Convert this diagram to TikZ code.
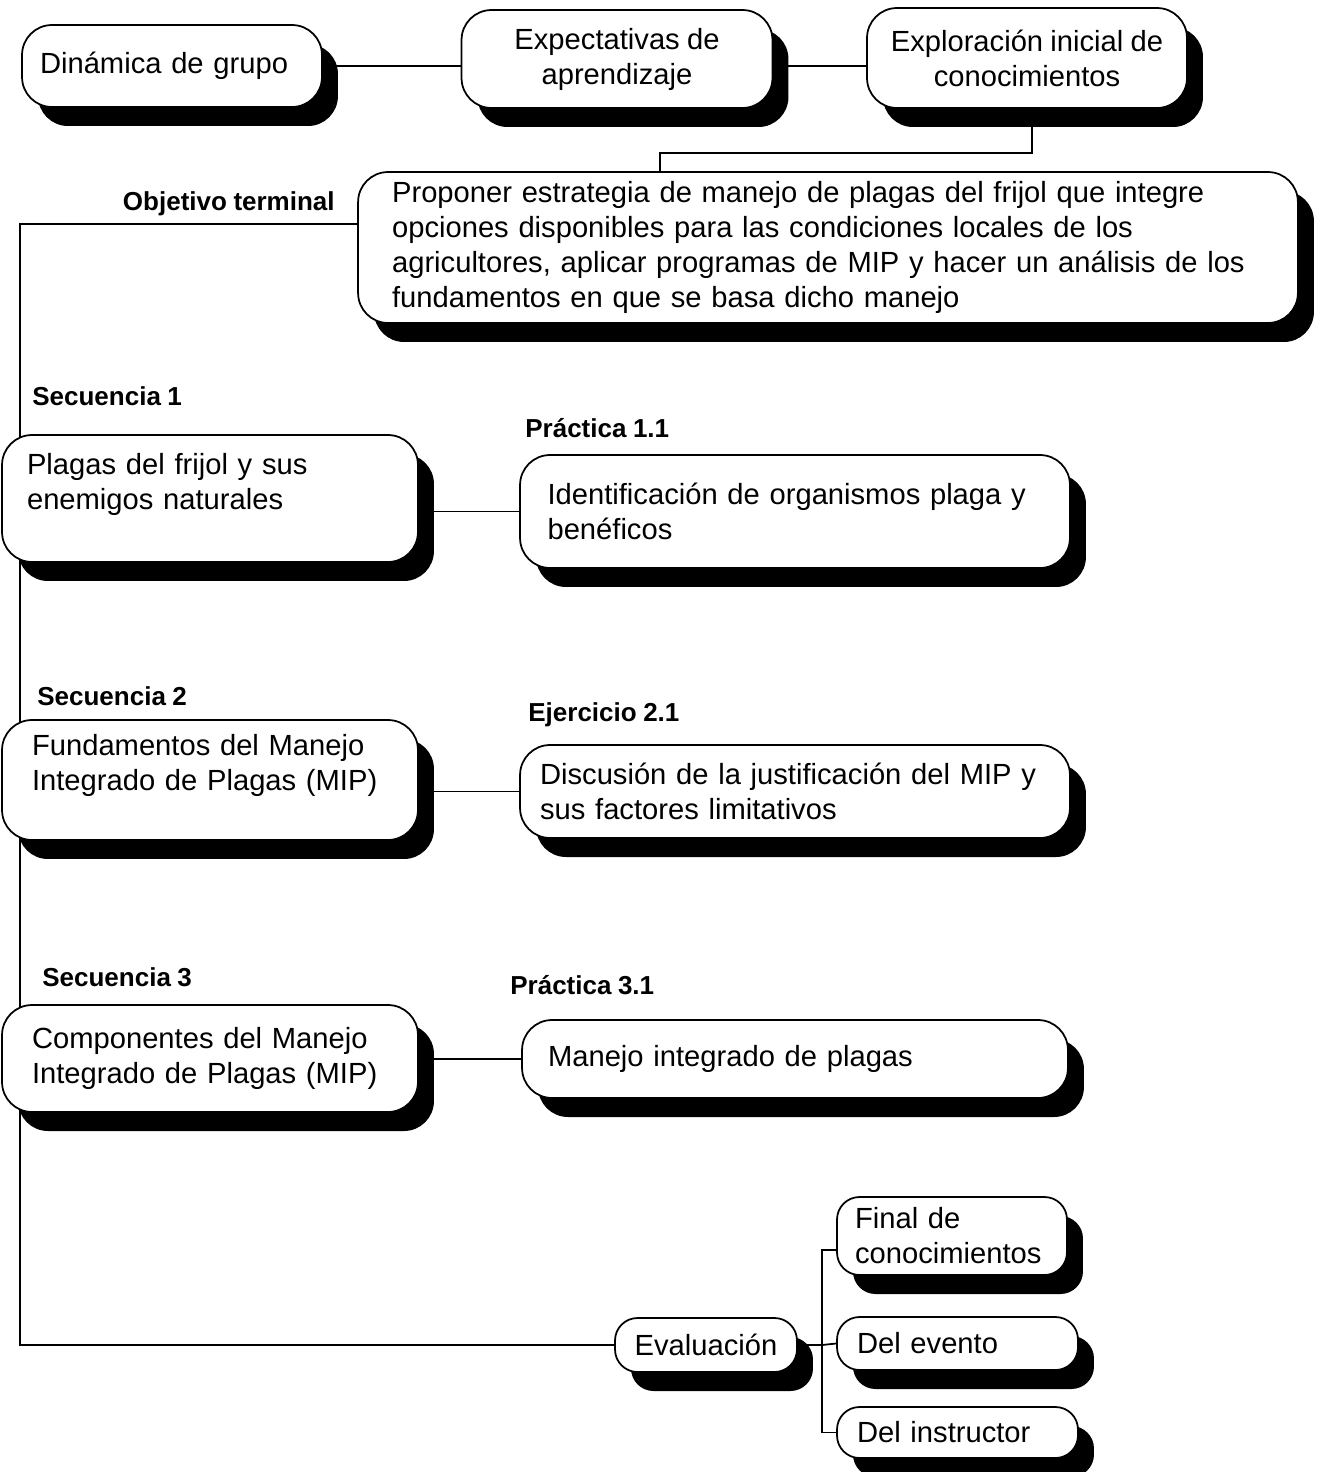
\documentclass[tikz,border=0pt]{standalone}
\usepackage{fontspec}
\setmainfont{Liberation Sans}[WordSpace=0.9]
\usetikzlibrary{shadows,backgrounds}

\begin{document}
\begin{tikzpicture}[
    x=0.02cm, y=-0.02cm,
    box/.style={draw=black, line width=1pt, fill=white, rounded corners=0.6cm,
        drop shadow={shadow xshift=0.32cm, shadow yshift=-0.38cm, opacity=1, fill=black},
        font=\fontsize{16.6}{19.9}\selectfont, inner sep=0pt},
    left box/.style={box, align=left},
    mid box/.style={box, align=center},
    small box/.style={box, rounded corners=0.45cm, align=left},
    title/.style={font=\fontsize{14.8}{17}\selectfont\bfseries, anchor=west, inner sep=0pt},
    link/.style={line width=1pt}
    ]
    \useasboundingbox (0,0) rectangle (1321,1472);

    % top row
    \node[left box, text width=5.28cm, inner xsep=0.36cm, minimum height=1.64cm] (dinamica) at (172,66) {Dinámica de grupo};
    \node[mid box, minimum width=6.22cm, minimum height=1.96cm] (expect) at (617,59) {Expectativas de\\aprendizaje};
    \node[mid box, minimum width=6.4cm, minimum height=2cm] (explor) at (1027,58) {Exploración inicial de\\conocimientos};

    % objetivo
    \node[title, anchor=east] (objlabel) at (335,204) {Objetivo terminal};
    \node[left box, text width=17.44cm, inner xsep=0.68cm, minimum height=3.02cm] (objetivo) at (828,247.5)
        {Proponer estrategia de manejo de plagas del frijol que integre\\opciones disponibles para las condiciones locales de los\\agricultores, aplicar programas de MIP y hacer un análisis de los\\fundamentos en que se basa dicho manejo};

    % secuencia 1
    \node[title] (sec1) at (32,396) {Secuencia 1};
    \node[left box, text width=7.32cm, inner xsep=0.5cm, minimum height=2.54cm] (plagas) at (210,498.5) {Plagas del frijol y sus\\enemigos naturales\\~};
    \node[title] (prac1) at (525,428) {Práctica 1.1};
    \node[left box, text width=9.9cm, inner xsep=0.55cm, minimum height=2.26cm] (ident) at (795,511.5) {Identificación de organismos plaga y\\benéficos};

    % secuencia 2
    \node[title] (sec2) at (37,696) {Secuencia 2};
    \node[left box, text width=7.12cm, inner xsep=0.6cm, minimum height=2.4cm] (fund) at (210,780) {Fundamentos del Manejo\\Integrado de Plagas (MIP)\\~};
    \node[title] (ejer2) at (528,715) {Ejercicio 2.1};
    \node[left box, text width=10.2cm, inner xsep=0.4cm, minimum height=1.86cm] (discus) at (795,791.5) {Discusión de la justificación del MIP y\\sus factores limitativos};

    % secuencia 3
    \node[title] (sec3) at (42,977) {Secuencia 3};
    \node[left box, text width=7.12cm, inner xsep=0.6cm, minimum height=2.14cm] (comp) at (210,1058.5) {Componentes del Manejo\\Integrado de Plagas (MIP)};
    \node[title] (prac3) at (510,985) {Práctica 3.1};
    \node[left box, text width=9.88cm, inner xsep=0.52cm, minimum height=1.56cm] (manejo) at (795,1059) {Manejo integrado de plagas};

    % evaluacion
    \node[mid box, rounded corners=0.45cm, minimum width=3.64cm, minimum height=1.08cm] (eval) at (706,1345) {Evaluación};
    \node[small box, text width=3.88cm, inner xsep=0.36cm, minimum height=1.56cm] (final) at (952,1236) {Final de\\conocimientos};
    \node[small box, text width=4.02cm, inner xsep=0.4cm, minimum height=1.06cm] (evento) at (957.5,1343.5) {Del evento};
    \node[small box, text width=4.02cm, inner xsep=0.4cm, minimum height=1.02cm] (instructor) at (957.5,1432.5) {Del instructor};

    % connectors
    \begin{scope}[on background layer]
        \draw[link] (dinamica.east) -- (dinamica.east -| expect.west);
        \draw[link] (expect.east |- dinamica.east) -- (dinamica.east -| explor.west);
        \draw[link] ([xshift=0.1cm]explor.south) -- ++(0,44) -| ([xshift=-3.36cm]objetivo.north);
        \coordinate (trunk) at (20,224);
        \draw[link] (trunk -| objetivo.west) -- (trunk) |- (eval.west);
        \draw[link] (plagas.east |- ident.west) -- (ident.west);
        \draw[link] (fund.east |- discus.west) -- (discus.west);
        \draw[link] (comp.east |- manejo.west) -- (manejo.west);
        \coordinate (split) at (822,1345);
        \draw[link] (eval.east) -- (split);
        \draw[link] ([yshift=-0.28cm]final.west) -| (split) |- (instructor.west);
        \draw[link] (split) -- (evento.west);
    \end{scope}
\end{tikzpicture}
\end{document}
